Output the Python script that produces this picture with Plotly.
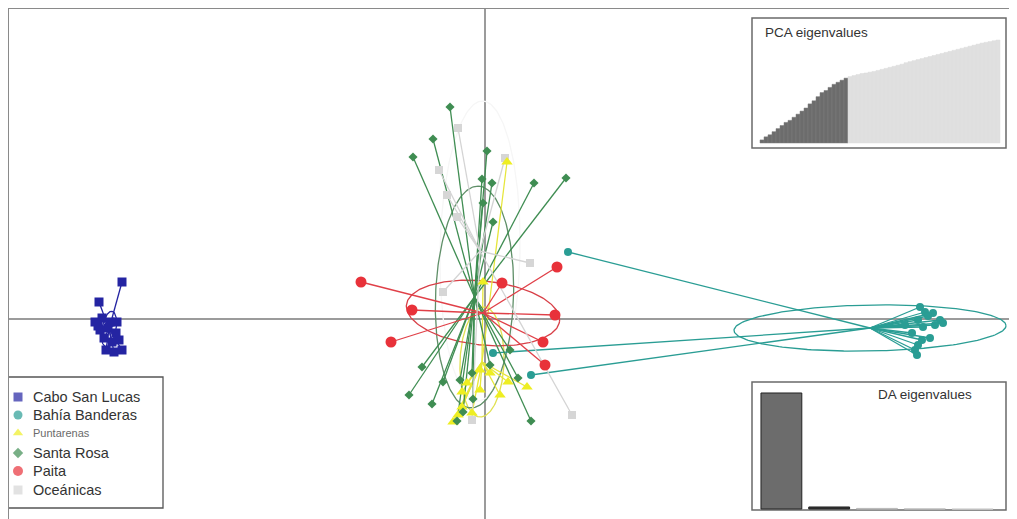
import numpy as np
import plotly.graph_objects as go

# ---------------- data (discriminant scores LD1 / LD2) ----------------
groups = ["Cabo San Lucas", "Bahía Banderas", "Puntarenas", "Santa Rosa", "Paita", "Oceánicas"]

cabo_x = [-7.26, -7.72, -7.80, -7.66, -7.50, -7.36, -7.70, -7.54, -7.38, -7.62, -7.46, -7.58, -7.26, -7.42, -7.74, -7.32]
cabo_y = [0.74, 0.34, -0.06, 0.02, -0.06, -0.06, -0.22, -0.18, -0.28, -0.38, -0.46, -0.62, -0.62, -0.66, -0.14, -0.42]

bahia_x = [1.66, 0.16, 0.92, 8.70, 8.80, 8.96, 9.10, 9.16, 8.66, 8.40, 8.76, 8.54, 8.90, 8.60, 8.66, 8.86, 8.74, 9.00, 8.64]
bahia_y = [1.34, -0.68, -1.12, 0.24, 0.14, 0.12, -0.02, -0.08, -0.02, -0.12, -0.16, -0.28, -0.38, -0.62, -0.52, 0.06, -0.42, -0.12, -0.72]

punta_x = [0.44, -0.04, -0.64, -0.46, -0.10, 0.10, 0.46, 0.84, -0.36, -0.46, -0.10, -0.26, -0.54, 0.30]
punta_y = [3.14, 0.74, -2.06, -1.76, -1.42, -1.08, -1.26, -1.36, -1.28, -1.46, -1.02, -1.88, -1.92, -1.52]

srosa_x = [-0.70, -1.04, -1.44, 0.04, -0.06, 0.14, 0.98, 1.62, -0.04, 0.16,
           -1.26, -0.84, -1.52, -1.06, -0.50, -0.26, -0.24, -0.44, -0.56, 0.92, 0.66, 0.50, 0.10]
srosa_y = [4.24, 3.60, 3.24, 3.36, 2.80, 2.72, 2.72, 2.82, 2.32, 1.94,
           -0.96, -1.26, -1.52, -1.70, -1.22, -1.08, -1.60, -1.86, -2.04, -2.04, -1.18, -0.62, -0.92]

paita_x = [-2.48, -1.46, -1.88, 0.34, 1.44, 1.40, 1.16, 1.20]
paita_y = [0.74, 0.18, -0.46, 0.72, 1.04, 0.08, -0.46, -0.92]

ocean_x = [-0.54, 0.40, -0.92, -0.76, -0.56, 0.90, -0.84, 1.74, -0.26]
ocean_y = [3.82, 3.22, 2.98, 2.48, 2.04, 1.12, 0.54, -1.92, -2.02]

# group centroids and inertia ellipses (centre x, centre y, semi-axis 1, semi-axis 2, angle deg)
cent_x = [-7.52, 7.70, -0.06, -0.21, -0.04, -0.10]
cent_y = [-0.20, -0.18, -0.86, 0.44, 0.12, 1.36]
ell_a = [0.36, 2.72, 1.10, 2.22, 1.54, 3.00]
ell_b = [0.14, 0.46, 0.44, 0.78, 0.64, 0.80]
ell_ang = [80, 1, 88, 88, -6, 89]

# eigenvalue insets
pca_cumvar = [3, 6, 8, 11, 14, 17, 20, 22, 25, 28, 31, 34, 38, 41, 45, 49, 51, 54, 57, 59, 61, 63,
              64.5, 65.5, 66.5, 67.5, 68, 68.8, 69.5, 70.5, 71.5, 72.5, 73.5, 74.5, 75.5, 76.5, 78, 79,
              80, 81, 82, 83, 84, 85, 86, 87, 88, 89, 90, 91, 92, 93, 94, 95, 96, 97, 97.8, 98.5, 99.3, 100]
n_pca_retained = 22
da_eig = [520.3, 9.1, 2.6, 1.8, 1.0]

# ---------------- styles ----------------
colors = ["#2424a2", "#2a9d94", "#eeee22", "#3f8d52", "#e8323a", "#d6d6d6"]
line_colors = ["#2424a2", "#2a9d94", "#e6e63a", "#3f8d52", "#e04048", "#d4d4d4"]
ell_colors = ["#2424a2", "#2a9d94", "#e0e050", "#5f8f68", "#d84048", "#f6f6f6"]
symbols = ["square", "circle", "triangle-up", "diamond", "circle", "square"]
sizes = [9, 8, 10, 7, 11, 8]

xs = [cabo_x, bahia_x, punta_x, srosa_x, paita_x, ocean_x]
ys = [cabo_y, bahia_y, punta_y, srosa_y, paita_y, ocean_y]

# page has an 8px body margin: the figure starts at window pixel (8, 8)
OFF = 8
W, H = 1009, 511


def px2paper_x(p):
    return (p - OFF) / W


def px2paper_y(p):
    return (OFF + H - p) / H


fig = go.Figure()

# ellipses (drawn first so stars and points sit on top)
t = np.linspace(0, 2 * np.pi, 200)
for g in [5, 0, 1, 2, 3, 4]:
    a, b, ang = ell_a[g], ell_b[g], np.deg2rad(ell_ang[g])
    ex = cent_x[g] + a * np.cos(t) * np.cos(ang) - b * np.sin(t) * np.sin(ang)
    ey = cent_y[g] + a * np.cos(t) * np.sin(ang) + b * np.sin(t) * np.cos(ang)
    fig.add_trace(go.Scatter(x=ex, y=ey, mode="lines", line=dict(color=ell_colors[g], width=1.3),
                             showlegend=False, hoverinfo="skip"))

# star segments
for g in range(len(groups)):
    sx, sy = [], []
    for x, y in zip(xs[g], ys[g]):
        sx += [cent_x[g], x, None]
        sy += [cent_y[g], y, None]
    fig.add_trace(go.Scatter(x=sx, y=sy, mode="lines", line=dict(color=line_colors[g], width=1.3),
                             showlegend=False, hoverinfo="skip"))

# points
for g in [5, 2, 3, 4, 1, 0]:
    fig.add_trace(go.Scatter(x=xs[g], y=ys[g], mode="markers", name=groups[g],
                             marker=dict(symbol=symbols[g], size=sizes[g], color=colors[g], line=dict(width=0)),
                             showlegend=False))

# ---------------- PCA eigenvalue inset ----------------
pca_idx = list(range(1, len(pca_cumvar) + 1))
pca_cols = ["#6c6c6c" if i <= n_pca_retained else "#e0e0e0" for i in pca_idx]
pca_lcols = ["#7c7c7c" if i <= n_pca_retained else "#dcdcdc" for i in pca_idx]
fig.add_trace(go.Bar(x=pca_idx, y=pca_cumvar, width=1.0, marker=dict(color=pca_cols, line=dict(color=pca_lcols, width=0.5)),
                     xaxis="x2", yaxis="y2", showlegend=False, hoverinfo="skip"))

# ---------------- DA eigenvalue inset ----------------
da_idx = list(range(1, len(da_eig) + 1))
fig.add_trace(go.Bar(x=da_idx, y=da_eig, width=0.854,
                     marker=dict(color=["#6c6c6c", "#333333", "#bbbbbb", "#cccccc", "#dddddd"],
                                 line=dict(color=["#222222", "#222222", "#bbbbbb", "#cccccc", "#dddddd"], width=1)),
                     xaxis="x3", yaxis="y3", showlegend=False, hoverinfo="skip"))

# ---------------- legend (manual) ----------------
leg_rows = [397, 415, 433, 453, 471, 490]
fig.add_trace(go.Scatter(x=[18] * 6, y=leg_rows, mode="markers",
                         marker=dict(symbol=symbols, size=[9, 9, 9, 8, 10, 9], color=colors, line=dict(width=0)),
                         xaxis="x4", yaxis="y4", showlegend=False, hoverinfo="skip"))

annotations = []
for i, g in enumerate(groups):
    if g == "Puntarenas":
        f = dict(family="Liberation Sans, Arial", size=11, color="#6a6a6a")
    else:
        f = dict(family="Liberation Sans, Arial", size=14.5, color="#333333")
    annotations.append(dict(x=px2paper_x(31), y=px2paper_y(leg_rows[i]), xref="paper", yref="paper",
                            text=g, showarrow=False, xanchor="left", yanchor="middle", font=f))

annotations.append(dict(x=px2paper_x(763), y=px2paper_y(32), xref="paper", yref="paper", text="PCA eigenvalues",
                        showarrow=False, xanchor="left", yanchor="middle",
                        font=dict(family="Liberation Sans, Arial", size=13.5, color="#333333")))
annotations.append(dict(x=px2paper_x(876), y=px2paper_y(394), xref="paper", yref="paper", text="DA eigenvalues",
                        showarrow=False, xanchor="left", yanchor="middle",
                        font=dict(family="Liberation Sans, Arial", size=13.5, color="#333333")))

# ---------------- shapes ----------------
xr = [(OFF - 485) / 50, (OFF + W - 485) / 50]
yr = [(319 - (OFF + H)) / 50, (319 - OFF) / 50]

shapes = [
    dict(type="line", xref="x", yref="y", x0=0, x1=0, y0=yr[0], y1=yr[1], line=dict(color="#7a7a7a", width=1.5), layer="below"),
    dict(type="line", xref="x", yref="y", x0=xr[0], x1=xr[1], y0=0, y1=0, line=dict(color="#7a7a7a", width=1.5), layer="below"),
    dict(type="line", xref="paper", yref="paper", x0=0, x1=0, y0=0, y1=1, line=dict(color="#8a8a8a", width=2)),
    dict(type="line", xref="paper", yref="paper", x0=0, x1=1, y0=1, y1=1, line=dict(color="#8a8a8a", width=2)),
    dict(type="rect", xref="paper", yref="paper", x0=px2paper_x(752), x1=px2paper_x(1006),
         y0=px2paper_y(148), y1=px2paper_y(18), line=dict(color="#6a6a6a", width=1.5), fillcolor="white", layer="below"),
    dict(type="rect", xref="paper", yref="paper", x0=px2paper_x(752), x1=px2paper_x(1006),
         y0=px2paper_y(510), y1=px2paper_y(382), line=dict(color="#6a6a6a", width=1.5), fillcolor="white", layer="below"),
    dict(type="rect", xref="paper", yref="paper", x0=px2paper_x(8), x1=px2paper_x(163),
         y0=px2paper_y(508), y1=px2paper_y(377), line=dict(color="#555555", width=1.3), fillcolor="white", layer="below"),
]

hid = dict(visible=False, showgrid=False, zeroline=False, fixedrange=True)

fig.update_layout(
    width=W, height=H, autosize=False,
    margin=dict(l=0, r=0, t=0, b=0, pad=0),
    paper_bgcolor="white", plot_bgcolor="rgba(0,0,0,0)",
    showlegend=False,
    xaxis=dict(range=xr, domain=[0, 1], **hid),
    yaxis=dict(range=yr, domain=[0, 1], **hid),
    xaxis2=dict(range=[-1.5, 62], domain=[px2paper_x(752), px2paper_x(1006)], anchor="y2", **hid),
    yaxis2=dict(range=[-4.85, 121.4], domain=[px2paper_y(148), px2paper_y(18)], anchor="x2", **hid),
    xaxis3=dict(range=[0.385, 5.70], domain=[px2paper_x(752), px2paper_x(1006)], anchor="y3", **hid),
    yaxis3=dict(range=[-4.5, 569.6], domain=[px2paper_y(510), px2paper_y(382)], anchor="x3", **hid),
    xaxis4=dict(range=[8, 163], domain=[px2paper_x(8), px2paper_x(163)], anchor="y4", **hid),
    yaxis4=dict(range=[508, 377], domain=[px2paper_y(508), px2paper_y(377)], anchor="x4", **hid),
    shapes=shapes,
    annotations=annotations,
)

fig.write_html("out.html", post_script="document.body.style.overflow='hidden';")
